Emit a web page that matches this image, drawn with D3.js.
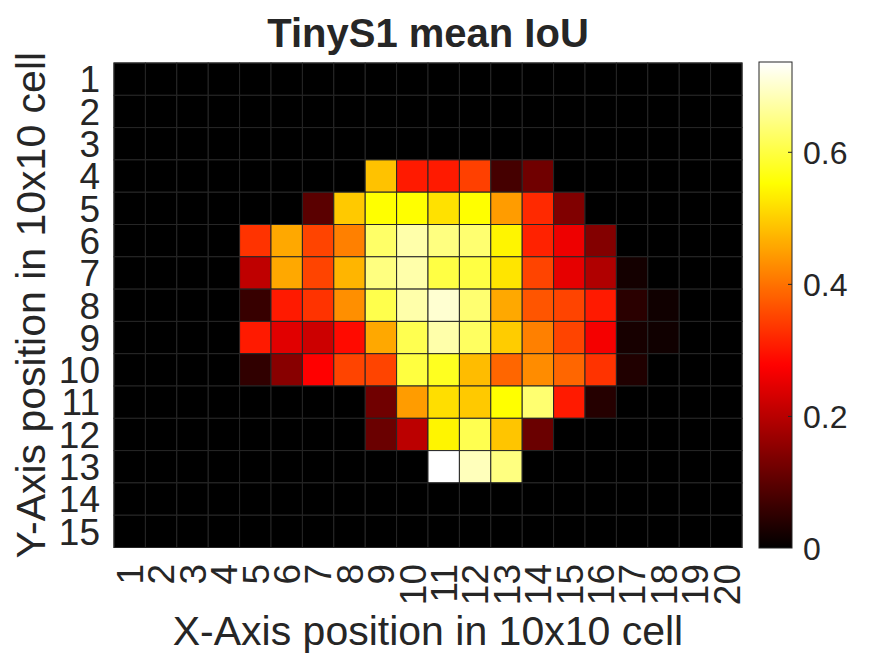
<!DOCTYPE html>
<html>
<head>
<meta charset="utf-8">
<script src="https://cdn.jsdelivr.net/npm/d3@7/dist/d3.min.js"></script>
<style>
  html, body { margin: 0; padding: 0; background: #fff; }
  svg { display: block; }
  text { font-family: "Liberation Sans", Arial, Helvetica, sans-serif; fill: #262626; }
</style>
</head>
<body>
<svg id="chart" width="875" height="656"></svg>
<script>
// ---- data ----
const xLabels = d3.range(1, 21).map(String);
const yLabels = d3.range(1, 16).map(String);
const colorTicks = [0, 0.2, 0.4, 0.6];
const row1  = [0,0,0,0,0,0,0,0,0,0,0,0,0,0,0,0,0,0,0,0];
const row2  = [0,0,0,0,0,0,0,0,0,0,0,0,0,0,0,0,0,0,0,0];
const row3  = [0,0,0,0,0,0,0,0,0,0,0,0,0,0,0,0,0,0,0,0];
const row4  = [0,0,0,0,0,0,0,0,0.486,0.304,0.304,0.345,0.075,0.121,0,0,0,0,0,0];
const row5  = [0,0,0,0,0,0,0.097,0.494,0.552,0.552,0.519,0.552,0.445,0.320,0.138,0,0,0,0,0];
const row6  = [0,0,0,0,0.331,0.458,0.350,0.414,0.626,0.675,0.644,0.633,0.541,0.313,0.258,0.142,0,0,0,0];
const row7  = [0,0,0,0,0.207,0.458,0.350,0.472,0.644,0.675,0.601,0.600,0.524,0.350,0.249,0.190,0.022,0,0,0];
const row8  = [0,0,0,0,0.060,0.304,0.331,0.431,0.607,0.675,0.703,0.633,0.458,0.368,0.350,0.304,0.045,0.017,0,0];
const row9  = [0,0,0,0,0.304,0.243,0.221,0.287,0.458,0.610,0.675,0.621,0.497,0.414,0.350,0.265,0.025,0.017,0,0];
const row10 = [0,0,0,0,0.052,0.147,0.276,0.350,0.350,0.598,0.575,0.480,0.386,0.428,0.386,0.331,0.035,0,0,0];
const row11 = [0,0,0,0,0,0,0,0,0.121,0.445,0.516,0.494,0.552,0.633,0.304,0.040,0,0,0,0];
const row12 = [0,0,0,0,0,0,0,0,0.115,0.202,0.541,0.610,0.489,0.115,0,0,0,0,0,0];
const row13 = [0,0,0,0,0,0,0,0,0,0,0.736,0.687,0.644,0,0,0,0,0,0,0];
const row14 = [0,0,0,0,0,0,0,0,0,0,0,0,0,0,0,0,0,0,0,0];
const row15 = [0,0,0,0,0,0,0,0,0,0,0,0,0,0,0,0,0,0,0,0];
const values = [row1,row2,row3,row4,row5,row6,row7,row8,row9,row10,row11,row12,row13,row14,row15];

const titleText = "TinyS1 mean IoU";
const xTitle = "X-Axis position in 10x10 cell";
const yTitle = "Y-Axis position in 10x10 cell";

// ---- layout ----
const plot = { left: 114, right: 742, top: 63, bottom: 547.5 };
const cbar = { left: 759, right: 792, top: 62, bottom: 548 };

const svg = d3.select("#chart");

// MATLAB 'hot' colormap
function hot(t) {
  t = Math.max(0, Math.min(1, t));
  const r = Math.min(1, t / 0.375);
  const g = Math.max(0, Math.min(1, (t - 0.375) / 0.375));
  const b = Math.max(0, Math.min(1, (t - 0.75) / 0.25));
  return d3.rgb(r * 255, g * 255, b * 255).toString();
}
const vmax = d3.max(values.flat());
const color = d3.scaleSequential(hot).domain([0, vmax]);

const x = d3.scaleBand().domain(xLabels).range([plot.left, plot.right]).padding(0);
const y = d3.scaleBand().domain(yLabels).range([plot.top, plot.bottom]).padding(0);

const cells = [];
values.forEach((row, i) => row.forEach((v, j) => cells.push({ r: yLabels[i], c: xLabels[j], v })));

svg.append("g").selectAll("rect").data(cells).join("rect")
  .attr("x", d => x(d.c)).attr("y", d => y(d.r))
  .attr("width", x.bandwidth()).attr("height", y.bandwidth())
  .attr("fill", d => color(d.v))
  .attr("stroke", "#262626").attr("stroke-width", 1);

svg.append("rect")
  .attr("x", plot.left).attr("y", plot.top)
  .attr("width", plot.right - plot.left).attr("height", plot.bottom - plot.top)
  .attr("fill", "none").attr("stroke", "#262626").attr("stroke-width", 1);

// y tick labels
svg.append("g").selectAll("text").data(yLabels).join("text")
  .attr("x", 100).attr("y", d => y(d) + y.bandwidth() / 2)
  .attr("dy", "0.36em").attr("text-anchor", "end")
  .style("font-size", "37px").text(d => d);

// x tick labels (rotated)
svg.append("g").selectAll("text").data(xLabels).join("text")
  .attr("transform", d => `translate(${x(d) + x.bandwidth() / 2},564) rotate(-90)`)
  .attr("dy", "0.36em").attr("text-anchor", "end")
  .style("font-size", "37px").text(d => d);

// titles
svg.append("text").attr("x", (plot.left + plot.right) / 2).attr("y", 47)
  .attr("text-anchor", "middle").style("font-size", "40px").style("font-weight", "bold")
  .text(titleText);
svg.append("text").attr("x", (plot.left + plot.right) / 2).attr("y", 645)
  .attr("text-anchor", "middle").style("font-size", "41px").text(xTitle);
svg.append("text").attr("transform", `translate(45,${(plot.top + plot.bottom) / 2}) rotate(-90)`)
  .attr("text-anchor", "middle").style("font-size", "41px").text(yTitle);

// colorbar
const cScale = d3.scaleLinear().domain([0, vmax]).range([cbar.bottom, cbar.top]);
const defs = svg.append("defs");
const grad = defs.append("linearGradient").attr("id", "cbgrad")
  .attr("x1", 0).attr("y1", 1).attr("x2", 0).attr("y2", 0);
d3.range(0, 1.0001, 0.01).forEach(t => {
  grad.append("stop").attr("offset", t).attr("stop-color", hot(t));
});
svg.append("rect").attr("x", cbar.left).attr("y", cbar.top)
  .attr("width", cbar.right - cbar.left).attr("height", cbar.bottom - cbar.top)
  .attr("fill", "url(#cbgrad)").attr("stroke", "#262626").attr("stroke-width", 1);

const cAxis = d3.axisRight(cScale).tickValues(colorTicks).tickSize(0)
  .tickFormat(d => d === 0 ? "0" : d3.format(".1f")(d));
const cg = svg.append("g").attr("transform", `translate(${cbar.right},0)`).call(cAxis);
cg.select(".domain").remove();
cg.selectAll("text").attr("x", 11).attr("dy", "0.36em")
  .style("font-size", "32px").style("font-family", '"Liberation Sans", Arial, sans-serif')
  .attr("fill", "#262626");
// small inward ticks
cg.selectAll(".tick").filter(d => d > 0).append("line")
  .attr("x1", 0).attr("x2", -4).attr("stroke", "#262626").attr("stroke-width", 1);
</script>
</body>
</html>
